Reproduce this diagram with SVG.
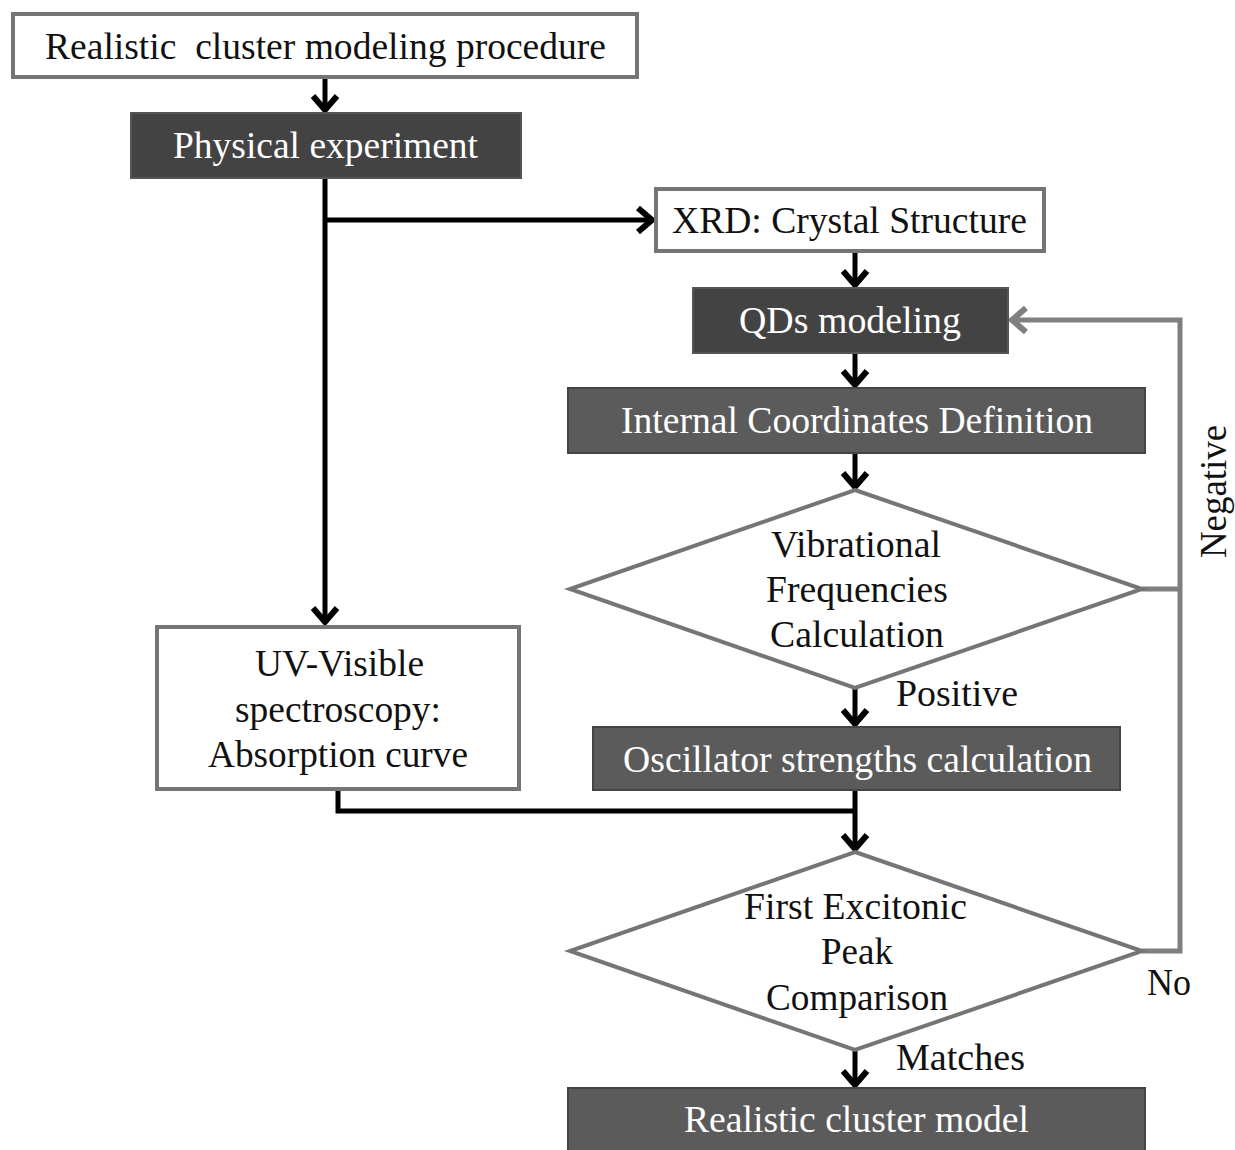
<svg xmlns="http://www.w3.org/2000/svg" width="1235" height="1150" viewBox="0 0 1235 1150">
<defs>
<style>
text{font-family:"Liberation Serif","Times New Roman",serif;font-size:37px;text-anchor:middle}
.w{fill:#ffffff}
.k{fill:#111111}
.wb{fill:#ffffff;stroke:#757575;stroke-width:4}
.db{fill:#434343;stroke:#555555;stroke-width:2}
.mb{fill:#5b5b5b;stroke:#444444;stroke-width:2}
.dm{fill:#ffffff;stroke:#757575;stroke-width:4}
.c{fill:none;stroke:#000000;stroke-width:5}
.g{fill:none;stroke:#7f7f7f;stroke-width:5}
</style>
<marker id="ah" markerUnits="userSpaceOnUse" viewBox="-20 -16 24 32" refX="0" refY="0" markerWidth="24" markerHeight="32" orient="auto">
<path d="M-15,-12 L-1,0 L-15,12" fill="none" stroke="#000" stroke-width="6" stroke-linejoin="miter"/>
</marker>
<marker id="ahg" markerUnits="userSpaceOnUse" viewBox="-20 -16 24 32" refX="0" refY="0" markerWidth="24" markerHeight="32" orient="auto">
<path d="M-15,-12 L-1,0 L-15,12" fill="none" stroke="#7f7f7f" stroke-width="6" stroke-linejoin="miter"/>
</marker>
</defs>
<rect width="1235" height="1150" fill="#ffffff"/>

<g id="connectors">
<path class="c" d="M325,78 L325,111" marker-end="url(#ah)"/>
<path class="c" d="M325,178 L325,623" marker-end="url(#ah)"/>
<path class="c" d="M325,220 L653,220" marker-end="url(#ah)"/>
<path class="c" d="M855,252 L855,286" marker-end="url(#ah)"/>
<path class="c" d="M855,353 L855,386" marker-end="url(#ah)"/>
<path class="c" d="M855,453 L855,488" marker-end="url(#ah)"/>
<path class="c" d="M855,688 L855,725" marker-end="url(#ah)"/>
<path class="c" d="M855,790 L855,850" marker-end="url(#ah)"/>
<path class="c" d="M338,790 L338,811 L855,811"/>
<path class="c" d="M855,1050 L855,1086" marker-end="url(#ah)"/>
<path class="g" d="M1142,589 L1180,589"/>
<path class="g" d="M1142,951 L1180,951 L1180,320 L1011,320" marker-end="url(#ahg)"/>
<text class="k" x="957" y="706" textLength="122" lengthAdjust="spacingAndGlyphs">Positive</text>
<text class="k" x="960.5" y="1070" textLength="129" lengthAdjust="spacingAndGlyphs">Matches</text>
<text class="k" x="1169" y="995" textLength="44" lengthAdjust="spacingAndGlyphs">No</text>
<text class="k" transform="translate(1226,491.5) rotate(-90)" textLength="133" lengthAdjust="spacingAndGlyphs">Negative</text>
</g>

<g id="n_start">
<rect class="wb" x="13" y="14" width="624" height="63"/>
<text class="k" x="325.5" y="59" textLength="561" lengthAdjust="spacingAndGlyphs" xml:space="preserve">Realistic  cluster modeling procedure</text>
</g>
<g id="n_phys">
<rect class="db" x="131" y="113" width="390" height="65"/>
<text class="w" x="325.5" y="158" textLength="305" lengthAdjust="spacingAndGlyphs">Physical experiment</text>
</g>
<g id="n_xrd">
<rect class="wb" x="656" y="189" width="388" height="62"/>
<text class="k" x="849.5" y="233" textLength="355" lengthAdjust="spacingAndGlyphs">XRD: Crystal Structure</text>
</g>
<g id="n_qds">
<rect class="db" x="693" y="288" width="315" height="65"/>
<text class="w" x="850" y="333" textLength="222" lengthAdjust="spacingAndGlyphs">QDs modeling</text>
</g>
<g id="n_icd">
<rect class="mb" x="568" y="388" width="577" height="65"/>
<text class="w" x="857" y="433" textLength="472" lengthAdjust="spacingAndGlyphs">Internal Coordinates Definition</text>
</g>
<g id="n_vib">
<polygon class="dm" points="855,490 1142,589 855,688 570,589"/>
<text class="k" x="856" y="557" textLength="170" lengthAdjust="spacingAndGlyphs">Vibrational</text>
<text class="k" x="857" y="602" textLength="182" lengthAdjust="spacingAndGlyphs">Frequencies</text>
<text class="k" x="857" y="647" textLength="174" lengthAdjust="spacingAndGlyphs">Calculation</text>
</g>
<g id="n_osc">
<rect class="mb" x="593" y="727" width="527" height="63"/>
<text class="w" x="857.5" y="772" textLength="469" lengthAdjust="spacingAndGlyphs">Oscillator strengths calculation</text>
</g>
<g id="n_uv">
<rect class="wb" x="157" y="627" width="362" height="162"/>
<text class="k" x="339.5" y="676" textLength="169" lengthAdjust="spacingAndGlyphs">UV-Visible</text>
<text class="k" x="338" y="722" textLength="206" lengthAdjust="spacingAndGlyphs">spectroscopy:</text>
<text class="k" x="338" y="767" textLength="260" lengthAdjust="spacingAndGlyphs">Absorption curve</text>
</g>
<g id="n_fep">
<polygon class="dm" points="855,852 1142,951 855,1050 570,951"/>
<text class="k" x="855.5" y="919" textLength="223" lengthAdjust="spacingAndGlyphs">First Excitonic</text>
<text class="k" x="857" y="964" textLength="72" lengthAdjust="spacingAndGlyphs">Peak</text>
<text class="k" x="857" y="1010" textLength="182" lengthAdjust="spacingAndGlyphs">Comparison</text>
</g>
<g id="n_end">
<rect class="mb" x="568" y="1088" width="577" height="70"/>
<text class="w" x="856.5" y="1132" textLength="345" lengthAdjust="spacingAndGlyphs">Realistic cluster model</text>
</g>
</svg>
